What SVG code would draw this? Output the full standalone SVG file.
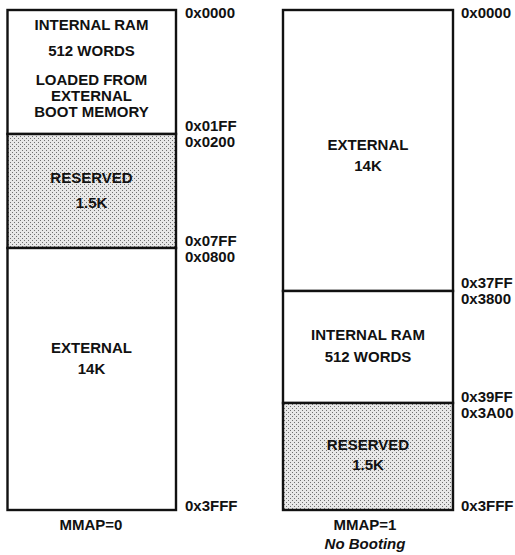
<svg xmlns="http://www.w3.org/2000/svg" width="515" height="555" viewBox="0 0 515 555">
<defs>
<pattern id="dots" width="4" height="4" patternUnits="userSpaceOnUse">
<rect width="4" height="4" fill="#e8e8e8"/>
<rect x="0" y="0" width="1" height="1" fill="#707070"/>
<rect x="2" y="2" width="1" height="1" fill="#707070"/>
</pattern>
</defs>
<style>
text{font-family:"Liberation Sans",Arial,sans-serif;font-weight:bold;font-size:15px;fill:#111}
.c{text-anchor:middle}
.it{font-style:italic}
.box{fill:#fff;stroke:#111;stroke-width:2.4}
.res{fill:url(#dots);stroke:#111;stroke-width:2.4}
</style>
<rect width="515" height="555" fill="#fff"/>

<g id="left-internal-ram">
<rect class="box" x="7.5" y="10" width="168.5" height="124"/>
<text class="c" x="91.5" y="30">INTERNAL RAM</text>
<text class="c" x="91.5" y="56">512 WORDS</text>
<text class="c" x="91.5" y="85">LOADED FROM</text>
<text class="c" x="91.5" y="101">EXTERNAL</text>
<text class="c" x="91.5" y="117">BOOT MEMORY</text>
</g>
<g id="left-reserved">
<rect class="res" x="7.5" y="134" width="168.5" height="114"/>
<text class="c" x="91.5" y="183">RESERVED</text>
<text class="c" x="91.5" y="208">1.5K</text>
</g>
<g id="left-external">
<rect class="box" x="7.5" y="248" width="168.5" height="262"/>
<text class="c" x="91.5" y="353">EXTERNAL</text>
<text class="c" x="91.5" y="374">14K</text>
</g>
<g id="left-addresses">
<text x="185" y="18">0x0000</text>
<text x="185" y="131">0x01FF</text>
<text x="185" y="147">0x0200</text>
<text x="185" y="246">0x07FF</text>
<text x="185" y="262">0x0800</text>
<text x="185" y="511">0x3FFF</text>
<text class="c" x="91" y="530">MMAP=0</text>
</g>

<g id="right-external">
<rect class="box" x="283" y="10" width="170" height="281"/>
<text class="c" x="368" y="150">EXTERNAL</text>
<text class="c" x="368" y="171">14K</text>
</g>
<g id="right-internal-ram">
<rect class="box" x="283" y="291" width="170" height="112"/>
<text class="c" x="368" y="340">INTERNAL RAM</text>
<text class="c" x="368" y="362">512 WORDS</text>
</g>
<g id="right-reserved">
<rect class="res" x="283" y="403" width="170" height="107"/>
<text class="c" x="368" y="450">RESERVED</text>
<text class="c" x="368" y="470">1.5K</text>
</g>
<g id="right-addresses">
<text x="461" y="18">0x0000</text>
<text x="461" y="288">0x37FF</text>
<text x="461" y="304">0x3800</text>
<text x="461" y="402">0x39FF</text>
<text x="461" y="418">0x3A00</text>
<text x="461" y="511">0x3FFF</text>
<text class="c" x="365" y="530">MMAP=1</text>
<text class="c it" x="365" y="549">No Booting</text>
</g>
</svg>
